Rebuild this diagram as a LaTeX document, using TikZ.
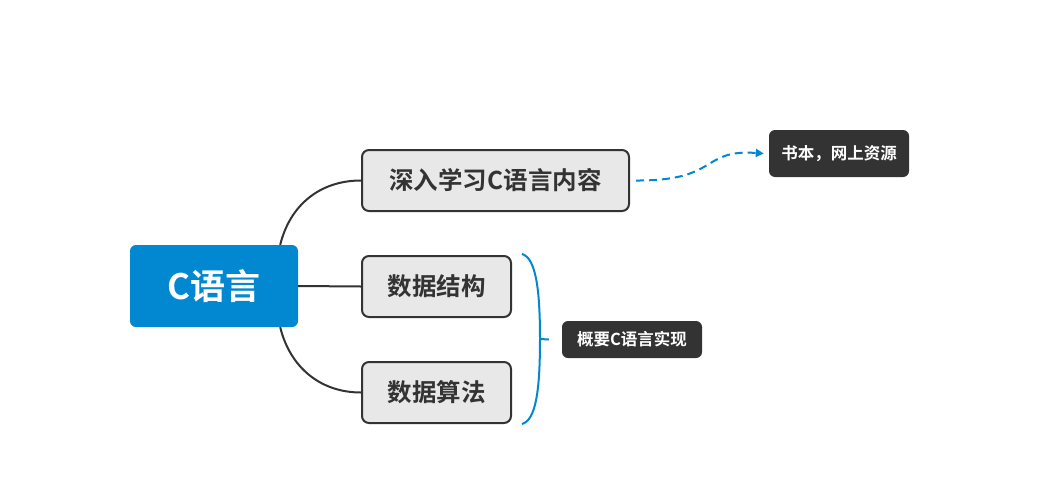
\documentclass[tikz,border=0pt]{standalone}
\usepackage{fontspec}
\newfontfamily\cjk{Noto Sans CJK SC}[BoldFont={Noto Sans CJK SC Bold}]
\usetikzlibrary{arrows.meta}
\definecolor{rootblue}{RGB}{2,136,209}
\definecolor{boxgray}{RGB}{232,232,232}
\definecolor{darkline}{RGB}{51,51,51}
\begin{document}
\begin{tikzpicture}[x=1pt,y=-1pt,
  rootbox/.style={fill=rootblue,rounded corners=6pt,text=white,font=\cjk\bfseries\fontsize{35}{40}\selectfont,inner sep=0pt},
  topicbox/.style={fill=boxgray,draw=darkline,line width=2pt,rounded corners=7pt,text=darkline,font=\cjk\bfseries\fontsize{24.5}{29}\selectfont,inner sep=0pt},
  notebox/.style={fill=darkline,rounded corners=6pt,text=white,font=\cjk\bfseries\fontsize{16.5}{19}\selectfont,inner sep=0pt},
  branch/.style={draw=darkline,line width=2pt},
  blueline/.style={draw=rootblue,line width=2pt}]
\useasboundingbox (0,0) rectangle (1037,477);
\node[rootbox,minimum width=168pt,minimum height=82pt] (root) at (214,286) {C语言};
\node[topicbox,minimum width=267pt,minimum height=61pt] (t1) at (495.5,180.5) {深入学习C语言内容};
\node[topicbox,minimum width=149pt,minimum height=61pt] (t2) at (436.5,286.5) {数据结构};
\node[topicbox,minimum width=149pt,minimum height=61pt] (t3) at (436.5,392.5) {数据算法};
\node[notebox,minimum width=140pt,minimum height=47pt] (n1) at (839,153.5) {书本，网上资源};
\node[notebox,minimum width=140pt,minimum height=37pt] (n2) at (632,339.5) {概要C语言实现};
\coordinate (r1) at ([xshift=-18pt]root.north east);
\coordinate (r3) at ([xshift=-18pt]root.south east);
\draw[branch] (r1) .. controls (290,205) and (320,180.5) .. (t1.west);
\draw[branch] (root.east) -- (t2.west);
\draw[branch] (r3) .. controls (290,367) and (320,392.5) .. (t3.west);
\coordinate (a0) at ([xshift=6pt]t1.east);
\coordinate (a1) at ([xshift=-5pt]n1.west);
\draw[blueline,dashed,dash pattern=on 8pt off 5pt,-{Triangle[length=8pt,width=8pt]}] (a0) .. controls (720,181) and (700,149) .. (a1);
\coordinate (bt) at (522,254);
\coordinate (bb) at (522,424);
\coordinate (bm) at (540,339);
\coordinate (bk) at ([xshift=-13pt]n2.west);
\draw[blueline] (bt) .. controls (536,258) and (540,290) .. (bm) .. controls (540,390) and (536,420) .. (bb);
\draw[blueline] (bm) -- (bk);
\end{tikzpicture}
\end{document}
